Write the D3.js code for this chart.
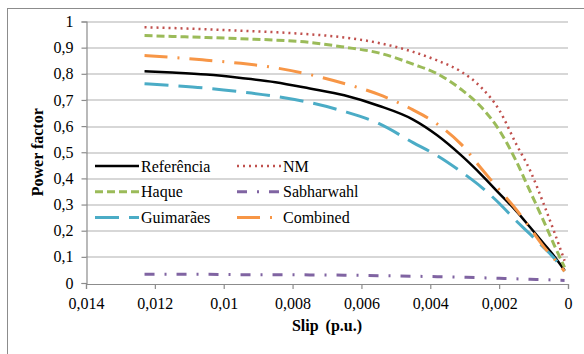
<!DOCTYPE html>
<html>
<head>
<meta charset="utf-8">
<script src="https://cdn.jsdelivr.net/npm/d3@7"></script>
<style>
  body { margin: 0; background: #fff; }
  text { font-family: 'Liberation Serif', 'Times New Roman', serif; }
</style>
</head>
<body>
<div id="chart"></div>
<script>
// slip values (p.u.) shared by every series
const slip = [0.0123, 0.0115, 0.0105, 0.0095, 0.0085, 0.0075, 0.0065, 0.0055, 0.0045,
  0.0038, 0.0031, 0.0025, 0.002, 0.0015, 0.0011, 0.0007, 0.0004, 0.0001];

const referencia = [0.810, 0.805, 0.797, 0.784, 0.768, 0.744, 0.718, 0.678, 0.625,
  0.565, 0.488, 0.412, 0.343, 0.275, 0.213, 0.150, 0.102, 0.048];
const nm = [0.978, 0.975, 0.970, 0.965, 0.959, 0.951, 0.939, 0.918, 0.884,
  0.851, 0.808, 0.745, 0.662, 0.530, 0.430, 0.300, 0.195, 0.085];
const haque = [0.946, 0.943, 0.939, 0.934, 0.929, 0.920, 0.902, 0.880, 0.837,
  0.800, 0.740, 0.670, 0.585, 0.465, 0.350, 0.235, 0.145, 0.060];
const sabharwahl = [0.033, 0.033, 0.033, 0.032, 0.032, 0.031, 0.030, 0.028, 0.026,
  0.024, 0.022, 0.020, 0.018, 0.016, 0.014, 0.013, 0.011, 0.010];
const guimaraes = [0.762, 0.755, 0.745, 0.731, 0.714, 0.690, 0.656, 0.610, 0.537,
  0.487, 0.425, 0.365, 0.305, 0.237, 0.187, 0.135, 0.095, 0.045];
const combined = [0.870, 0.863, 0.852, 0.840, 0.823, 0.797, 0.763, 0.721, 0.662,
  0.608, 0.530, 0.435, 0.357, 0.280, 0.210, 0.138, 0.092, 0.045];

const xTicks = [0.014, 0.012, 0.01, 0.008, 0.006, 0.004, 0.002, 0];
const yTicks = [0, 0.1, 0.2, 0.3, 0.4, 0.5, 0.6, 0.7, 0.8, 0.9, 1];

const series = [
  { name: 'Referência', values: referencia, color: '#000000', dash: null, w: 2.5 },
  { name: 'NM', values: nm, color: '#C0504D', dash: '2 4', w: 2.5 },
  { name: 'Haque', values: haque, color: '#9BBB59', dash: '8 4', w: 3 },
  { name: 'Sabharwahl', values: sabharwahl, color: '#8064A2', dash: '10 10 2 10', w: 3 },
  { name: 'Guimarães', values: guimaraes, color: '#4BACC6', dash: '24 10', w: 3 },
  { name: 'Combined', values: combined, color: '#F79646', dash: '23 10 2 10', w: 3 }
];

const W = 584, H = 354;
const margin = { top: 21.5, right: 16, bottom: 71, left: 86 };
const width = W - margin.left - margin.right;
const height = H - margin.top - margin.bottom;

const loc = d3.formatLocale({ decimal: ',', thousands: '.', grouping: [3], currency: ['', ''] });
const fmt = loc.format('~g');

const svg = d3.select('#chart')
  .append('svg')
  .attr('width', W)
  .attr('height', H);

// chart border
svg.append('rect')
  .attr('x', 7.5).attr('y', 8.5)
  .attr('width', W + 20).attr('height', H + 20)
  .attr('fill', 'none')
  .attr('stroke', '#8c8c8c')
  .attr('stroke-width', 1);

const g = svg.append('g')
  .attr('transform', 'translate(' + margin.left + ',' + margin.top + ')');

const x = d3.scaleLinear().domain([0.014, 0]).range([0, width]);
const y = d3.scaleLinear().domain([0, 1]).range([height, 0]);

// gridlines
g.selectAll('.grid')
  .data(yTicks.filter(d => d > 0))
  .enter()
  .append('line')
  .attr('x1', 0).attr('x2', width)
  .attr('y1', d => Math.round(y(d)) + 0.5)
  .attr('y2', d => Math.round(y(d)) + 0.5)
  .attr('stroke', '#b0b0b0')
  .attr('stroke-width', 1.2);

// axes
const xAxis = g.append('g')
  .attr('transform', 'translate(0,' + (Math.round(height) + 0.5) + ')')
  .call(d3.axisBottom(x).tickValues(xTicks).tickFormat(fmt).tickSize(5).tickPadding(6));
const yAxis = g.append('g')
  .attr('transform', 'translate(0.5,0)')
  .call(d3.axisLeft(y).tickValues(yTicks).tickFormat(fmt).tickSize(5).tickPadding(8));

[xAxis, yAxis].forEach(a => {
  a.attr('font-family', null).attr('font-size', null);
  a.select('.domain').attr('stroke', '#8c8c8c').attr('stroke-width', 1.2);
  a.selectAll('.tick line').attr('stroke', '#8c8c8c').attr('stroke-width', 1.2);
  a.selectAll('text')
    .attr('fill', '#000')
    .style('font-family', "'Liberation Serif', 'Times New Roman', serif")
    .style('font-size', '16px');
});
xAxis.selectAll('text').attr('dy', '0.9em');

// lines
const line = d3.line()
  .x((d, i) => x(slip[i]))
  .y(d => y(d))
  .curve(d3.curveMonotoneX);

g.selectAll('.series')
  .data(series)
  .enter()
  .append('path')
  .attr('d', d => line(d.values))
  .attr('fill', 'none')
  .attr('stroke', d => d.color)
  .attr('stroke-width', d => d.w)
  .attr('stroke-dasharray', d => d.dash);

// legend
const legend = svg.append('g');
const items = legend.selectAll('.item')
  .data(series)
  .enter()
  .append('g')
  .attr('transform', (d, i) => 'translate(' + (95 + (i % 2) * 142) + ',' + (166 + Math.floor(i / 2) * 25.7) + ')');

items.append('line')
  .attr('x1', 0).attr('x2', 44)
  .attr('y1', 0).attr('y2', 0)
  .attr('stroke', d => d.color)
  .attr('stroke-width', d => d.w)
  .attr('stroke-dasharray', d => d.dash);

items.append('text')
  .attr('x', 46)
  .attr('y', 5.5)
  .style('font-size', '16px')
  .text(d => d.name);

// axis titles
svg.append('text')
  .attr('x', margin.left + width / 2)
  .attr('y', 331)
  .attr('text-anchor', 'middle')
  .style('font-size', '16px')
  .style('font-weight', 'bold')
  .style('word-spacing', '3px')
  .text('Slip (p.u.)');

svg.append('text')
  .attr('transform', 'translate(43,' + (margin.top + height / 2) + ') rotate(-90)')
  .attr('text-anchor', 'middle')
  .style('font-size', '16px')
  .style('font-weight', 'bold')
  .text('Power factor');
</script>
</body>
</html>
